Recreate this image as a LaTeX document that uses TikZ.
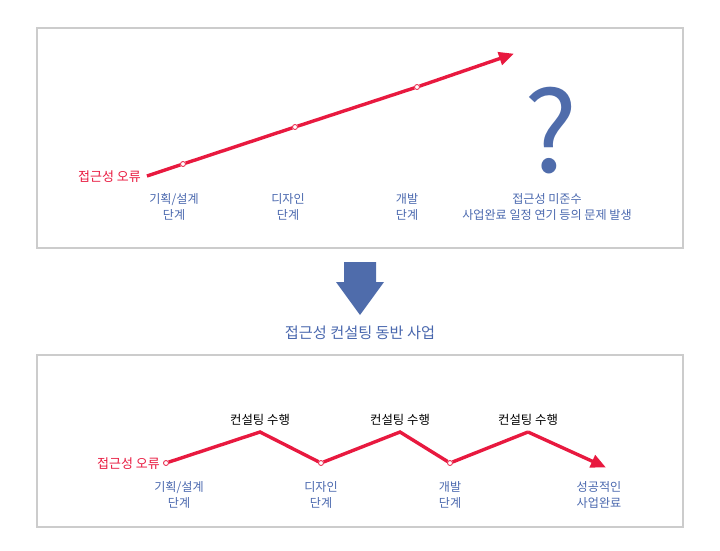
\documentclass[tikz,border=0pt]{standalone}
\usepackage{fontspec}
\setmainfont{Noto Sans CJK KR}
\usetikzlibrary{arrows.meta, positioning}

\definecolor{errred}{HTML}{E8193F}
\definecolor{stageblue}{HTML}{4A68AE}
\definecolor{markblue}{HTML}{4F6CAB}
\definecolor{framegray}{HTML}{CCCCCC}

\begin{document}
\begin{tikzpicture} [x=1pt, y=-1pt, align=center,
	frame/.style={draw=framegray, line width=1.2pt},
	stage/.style={text=stageblue, font=\fontsize{12.1}{16.5}\selectfont, inner sep=0pt},
	errlabel/.style={text=errred, font=\fontsize{13}{14}\selectfont, inner sep=0pt, anchor=east},
	consult/.style={text=black, font=\fontsize{12.4}{14}\selectfont, inner sep=0pt},
	dot/.style={circle, draw=errred, fill=white, line width=0.8pt, inner sep=0pt, minimum size=5pt},
	flow/.style={draw=errred, line width=3.4pt, line join=miter},
	tip/.style={-{Triangle[length=15pt, width=13pt]}}]

\useasboundingbox (0,0) rectangle (720,550);

% upper case: project without consulting
\draw[frame] (37,28) rectangle (683,248);

\node[errlabel]	(top_error)	at (141,177)	{접근성 오류};
\coordinate	(top_start)	at (147,176);
\node[dot]	(top_plan)	at (183,164)	{};
\node[dot]	(top_design)	at (295,127)	{};
\node[dot]	(top_dev)	at (417,87)	{};
\coordinate	(top_end)	at (513,54);

\draw[flow]	(top_start) -- (top_plan) -- (top_design) -- (top_dev);
\draw[flow, tip, shorten >=-1pt]	(top_dev) -- (top_end);

\node[stage]	(top_plan_text)	at (174,207)	{기획/설계\\단계};
\node[stage]	(top_design_text)	at (288,207)	{디자인\\단계};
\node[stage]	(top_dev_text)	at (407,207)	{개발\\단계};
\node[stage]	(top_fail_text)	at (547,207)	{접근성 미준수\\사업완료 일정 연기 등의 문제 발생};

\node[text=markblue, inner sep=0pt, font=\fontsize{112}{112}\selectfont]	(question)	at (551,131)	{?};

% transition
\fill[markblue]	(344,262) -- (376,262) -- (376,282) -- (384,282) -- (360,315) -- (336,282) -- (344,282) -- cycle;
\node[text=stageblue, inner sep=0pt, font=\fontsize{15.2}{16}\selectfont]	(title)	at (360,333)	{접근성 컨설팅 동반 사업};

% lower case: project with consulting
\draw[frame] (37,355) rectangle (683,527);

\node[errlabel]	(low_error)	at (160,464)	{접근성 오류};
\node[dot]	(low_plan)	at (166,463)	{};
\coordinate	(peak_a)	at (260,432);
\node[dot]	(low_design)	at (321,463)	{};
\coordinate	(peak_b)	at (400,432);
\node[dot]	(low_dev)	at (450,463)	{};
\coordinate	(peak_c)	at (528,432);
\coordinate	(low_end)	at (605,467);

\draw[flow]	(low_plan) -- (peak_a) -- (low_design) -- (peak_b) -- (low_dev) -- (peak_c);
\draw[flow, tip, shorten >=-1pt]	(peak_c) -- (low_end);

\node[consult]	(consult_a)	[above=6pt of peak_a]	{컨설팅 수행};
\node[consult]	(consult_b)	[above=6pt of peak_b]	{컨설팅 수행};
\node[consult]	(consult_c)	[above=6pt of peak_c]	{컨설팅 수행};

\node[stage]	(low_plan_text)	at (179,495)	{기획/설계\\단계};
\node[stage]	(low_design_text)	at (321,495)	{디자인\\단계};
\node[stage]	(low_dev_text)	at (450,495)	{개발\\단계};
\node[stage]	(low_done_text)	at (599,495)	{성공적인\\사업완료};

\end{tikzpicture}
\end{document}
